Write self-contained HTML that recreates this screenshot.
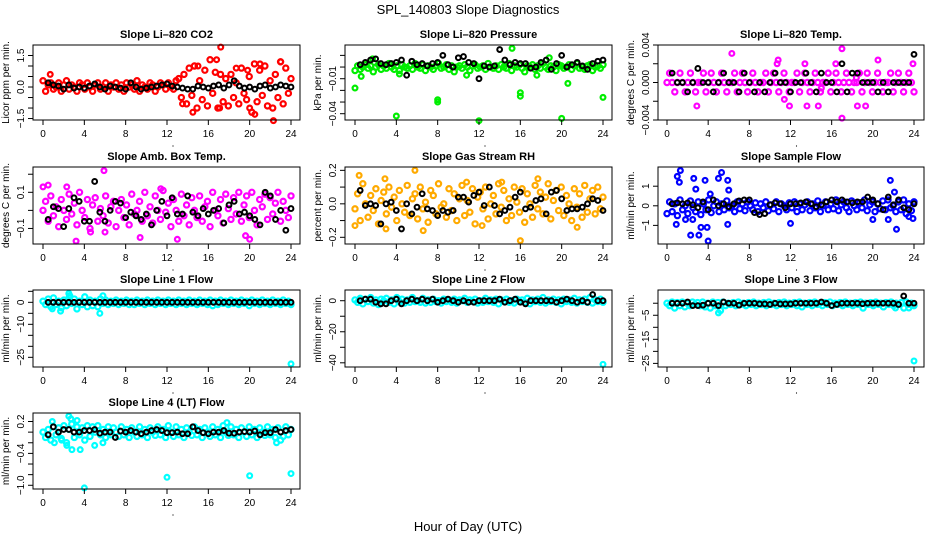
<!DOCTYPE html>
<html><head><meta charset="utf-8"><style>
body{margin:0;background:#fff;}
svg{display:block;font-family:"Liberation Sans",sans-serif;}
</style></head><body>
<svg id="chart" width="936" height="540" xmlns="http://www.w3.org/2000/svg">
<rect width="936" height="540" fill="#fff"/>
<text x="468" y="14" text-anchor="middle" font-size="13">SPL_140803  Slope Diagnostics</text>
<text x="468" y="531" text-anchor="middle" font-size="13">Hour of Day (UTC)</text>
</svg>
<script>
// ---- data (hour axis categories) ----
const xTicks=[0,4,8,12,16,20,24];
// Panel 1: CO2
const co2Vals=[0.3,-0.2,0.1,0.2,-0.1,0.0,0.2,-0.2,0.1,0.3,-0.1,0.1,0.0,-0.2,0.2,0.1,-0.1,0.2,0.0,-0.2,0.1,0.2,-0.1,0.0,0.2,-0.2,0.1,0.0,0.2,-0.1,0.1,-0.2,0.2,0.0,0.1,-0.1,0.3,-0.2,0.1,0.0,-0.1,0.2,0.1,-0.2,0.0,0.2,0.1,-0.1,0.2,0.0,-0.1,0.3,0.4,-0.5,0.6,-0.8,0.9,-0.4,1.0,-1.0,0.3,-0.6,0.8,-0.9,1.3,-0.3,0.7,-1.0,0.6,-0.7,0.4,-0.9,0.6,-0.5,0.2,-0.8,0.9,-0.3,-0.6,0.5,-1.2,1.1,-0.7,0.8,-0.4,1.0,-0.9,0.3,-1.0,0.6,-0.5,1.2,-0.8,0.9,-0.3,0.4];
const co2OutX=[0.7,17.2,20,20.5,22.3,21,23,18.7,16.8,14.5,15,17.1,13.5,19.8];
const co2OutY=[0.6,1.9,-1.0,-1.3,-1.6,1.1,1.2,0.9,1.3,-1.2,1.0,-1.0,-0.8,0.8];
const co2Black=[0.2,0.1,0.05,-0.1,0.1,-0.05,0.0,-0.05,0.05,0.15,0.0,-0.1,0.05,0.0,-0.05,-0.1,0.2,0.0,-0.1,-0.05,0.0,0.05,0.1,0.15,0.05,0.0,-0.05,-0.1,-0.1,0.05,0.0,-0.05,0.05,0.1,-0.05,0.1,0.3,0.05,-0.05,0.0,-0.1,0.05,0.1,-0.05,0.0,0.1,0.05,0.0];
// Panel 2: Pressure
const presVals=[-0.003,0.001,-0.002,0.0,0.002,-0.001,0.001,-0.004,0.0,0.002,-0.002,0.001,-0.001,0.003,0.0,-0.002,0.001,-0.003,0.002,0.0,-0.001,0.001,-0.002,0.003,0.0,-0.001,0.002,-0.003,0.001,0.0,-0.002,0.001,0.003,-0.001,0.0,0.002,-0.002,0.001,-0.004,0.0,0.001,-0.001,0.002,0.0,-0.003,0.001,0.002,-0.001,0.0,0.001,-0.002,0.003,0.0,-0.001,0.001,-0.002,0.002,0.0,-0.001,0.003,-0.003,0.001,0.0,0.002,-0.001,-0.004,0.001,0.0,0.002,-0.002,0.001,-0.001,0.003,0.0,-0.002,0.001,0.0,-0.003,0.002,0.001,-0.001,0.0,0.002,-0.002,0.001,0.003,-0.001,0.0,-0.002,0.001,0.002,-0.003,0.0,0.001,-0.001,0.002];
const presOutX=[0,0.6,4,8,8,12,16,16,20,24,15.2,20.6,10.8,17.6,1.7,18.8,4.3];
const presOutY=[-0.018,-0.008,-0.042,-0.028,-0.030,-0.046,-0.022,-0.025,-0.044,-0.026,0.016,-0.014,-0.007,-0.007,0.007,0.008,-0.006];
const presBlack=[0.002,0.004,0.006,0.007,0.003,0.002,0.003,0.004,0.006,-0.007,0.005,0.002,0.003,0.001,0.003,0.004,0.010,0.002,0.0,0.008,0.009,0.004,0.003,-0.010,0.001,0.0,0.001,0.015,0.006,0.002,0.004,0.003,0.003,-0.001,0.0,0.004,0.006,-0.002,0.003,0.010,0.0,0.002,0.004,0.001,-0.002,0.003,0.005,0.006];
// Panel 3: Li-820 Temp
const tempVals=[0,0.001,0,-0.001,0,0.001,0,-0.001,0,0.001,0,-0.001,0,0,0.001,-0.001,0,0.001,0,-0.001,0,0.001,0,-0.001,0,0,0.001,-0.001,0,0.001,0,-0.001,0,0.001,0,-0.001,0,0,0.001,-0.001,0,0.001,0,-0.001,0,0.001,0,-0.001,0,0,0.001,-0.001,0,0.001,0,-0.001,0,0.001,0,-0.001,0,0,0.001,-0.001,0,0.001,0,-0.001,0,0.001,0,-0.001,0,0,0.001,-0.001,0,0.001,0,-0.001,0,0.001,0,-0.001,0,0,0.001,-0.001,0,0.001,0,-0.001,0,0.001,0,-0.001];
const tempOutX=[6.3,10.8,17,17,2.9,11.9,20.5,23.9,13.6,14.7,18.5,19.3,15,18.4,10.7,16.4,13.4,11.4];
const tempOutY=[0.0031,0.0024,0.0036,-0.0038,-0.0025,-0.0025,0.0024,0.002,-0.0025,-0.0025,-0.0025,-0.0025,-0.0006,0.0005,0.002,0.002,0.002,-0.0018];
const tempBlack=[0.001,0,0,-0.001,0,0.0015,0,0,-0.001,0,0.001,0,0,-0.001,0.001,0,-0.001,0,-0.001,0,0.001,0,0,-0.001,0,0,0.001,0,-0.001,0.001,0,0,-0.001,0.002,-0.001,0.001,0.001,0,0,0,-0.001,0,-0.001,0,0,0,0,0.003];
// Panel 4: Amb Box Temp
const ambVals=[0.0,0.05,-0.06,0.08,-0.03,0.02,-0.09,0.06,0.0,-0.05,0.09,-0.02,0.04,-0.08,0.1,0.0,-0.04,0.06,-0.1,0.03,0.07,-0.06,0.01,-0.03,0.08,-0.07,0.02,0.05,-0.09,0.0,0.06,-0.04,0.03,-0.08,0.09,-0.02,0.0,0.05,-0.06,0.1,-0.03,0.02,-0.07,0.08,0.0,-0.05,0.11,-0.01,0.04,-0.09,0.06,0.0,-0.06,0.09,-0.03,0.03,-0.08,0.07,0.0,-0.04,0.08,-0.06,0.02,0.05,-0.09,0.1,0.0,-0.03,0.06,-0.07,0.09,0.01,-0.05,0.07,-0.02,0.1,-0.06,0.03,0.08,-0.04,0.1,0.0,-0.08,0.06,0.02,0.09,-0.05,0.07,-0.02,0.04,0.1,-0.06,0.05,0.0,-0.04,0.08];
const ambOutX=[5.9,3.2,0,0.5,9.4,13,20,6,4.6,11.4,19.6,2.3];
const ambOutY=[0.22,-0.17,0.13,0.14,-0.15,-0.16,-0.16,-0.12,-0.12,0.12,-0.14,0.13];
const ambBlack=[-0.05,0.02,0.01,-0.09,0.01,0.07,0.05,-0.06,-0.06,0.16,-0.01,-0.06,0.0,0.05,0.04,-0.04,-0.01,-0.03,-0.05,-0.02,-0.08,0.0,0.05,-0.03,0.07,-0.02,-0.02,0.08,-0.01,-0.03,0.01,-0.02,0.0,0.01,-0.07,0.03,0.05,-0.02,-0.01,-0.03,-0.05,-0.08,0.1,0.08,-0.05,0.0,-0.11,0.01];
// Panel 5: Gas Stream RH
const rhVals=[-0.03,0.06,-0.1,0.12,0.0,-0.08,0.05,-0.04,0.09,-0.12,0.02,0.07,-0.06,0.1,-0.02,0.04,-0.1,0.08,0.0,-0.05,0.11,-0.07,0.03,0.06,-0.09,0.1,-0.03,0.01,-0.11,0.08,0.05,-0.06,0.12,-0.02,0.0,-0.08,0.09,-0.04,0.06,-0.1,0.03,0.11,-0.07,0.02,-0.05,0.09,-0.12,0.04,0.07,-0.03,0.1,-0.09,0.0,0.05,-0.06,0.12,-0.02,0.08,-0.1,0.03,-0.07,0.1,0.01,-0.05,0.09,-0.11,0.06,0.0,-0.08,0.11,-0.03,0.07,-0.06,0.04,0.12,-0.09,0.02,0.08,-0.04,0.1,-0.07,0.05,0.0,-0.1,0.09,-0.02,0.06,-0.08,0.11,-0.05,0.03,0.08,-0.06,0.1,-0.03,0.04];
const rhOutX=[0,0.4,5.8,2.9,16,6.6,3,10.8,12.3,21.5,14.2,17.7];
const rhOutY=[-0.13,0.17,0.2,0.15,-0.22,-0.16,-0.15,0.13,-0.13,-0.14,0.13,0.15];
const rhBlack=[0.08,-0.01,0.0,-0.01,-0.12,0.0,0.01,-0.04,-0.15,-0.0,-0.06,-0.02,0.06,-0.03,-0.04,-0.07,-0.04,-0.05,-0.04,0.04,0.04,0.01,0.05,0.07,-0.01,0.10,-0.01,-0.06,-0.04,-0.02,0.04,0.07,-0.03,-0.02,0.02,0.03,-0.06,0.07,0.08,0.03,-0.04,-0.03,-0.03,-0.02,0.00,0.03,0.02,-0.04];
// Panel 6: Sample Flow
const flowVals=[-0.4,0.2,-0.3,0.1,-0.5,0.3,-0.2,0.0,-0.4,0.25,-0.1,-0.3,0.2,-0.45,0.1,-0.2,0.3,-0.35,0.0,0.2,-0.3,0.1,-0.2,0.25,-0.1,0.0,-0.3,0.2,-0.15,0.1,-0.25,0.2,0.0,-0.2,0.15,-0.3,0.1,-0.1,0.2,-0.25,0.05,-0.15,0.2,-0.3,0.1,0.0,-0.2,0.15,-0.1,0.2,-0.3,0.1,-0.2,0.05,0.2,-0.25,0.1,-0.1,0.25,-0.3,0.0,0.2,-0.2,0.1,-0.15,0.3,-0.25,0.05,0.2,-0.1,-0.3,0.25,0.0,-0.2,0.15,-0.1,0.3,-0.25,0.05,0.2,-0.3,0.1,-0.15,0.25,-0.2,0.3,-0.1,0.0,-0.3,0.2,-0.2,0.3,-0.4,0.1,-0.25,0.2];
const flowOutX=[1.3,1.0,1.2,2.6,3.7,5.0,5.3,5.9,6.0,21.7,22.1,2.3,3.1,4.0,3.3,3.9,5.9,0.9,12,20,21.5,22.3,23.5,23.9,1.8,2.5,4.2,2.8];
const flowOutY=[1.8,1.5,1.2,1.4,1.3,1.4,1.7,1.3,0.8,1.3,0.7,-1.5,-1.5,-1.8,-1.1,-1.1,-0.95,-0.95,-0.9,-0.7,-0.7,-1.2,-0.55,-0.65,-0.7,-0.7,0.6,0.85];
const flowBlack=[0.1,0.15,0.1,0.15,0.05,-0.1,0.2,-0.2,0.3,0.0,0.1,-0.05,0.1,0.25,0.3,0.3,-0.35,-0.45,-0.4,0.05,0.15,0.1,-0.1,0.1,0.1,0.15,0.2,0.1,-0.05,0.05,0.2,0.3,0.2,0.3,0.2,0.15,0.2,0.2,0.45,0.3,0.1,-0.2,0.45,0.05,0.3,-0.1,-0.2,0.1];
// Panel 7: Line 1 Flow
const l1Vals=[0.5,-1,1.5,-2,2,-1,0.5,-2.5,1,-1.5,2,-0.5,1.5,-3,0.5,-1,2.5,-2,1,-1.5,0.5,-2,1.5,-0.5,1,-1,0.5,-0.5,1,-1,0.5,-0.5,1,-1,0.5,-1,1,-0.5,0.5,-1,1,-0.5,0.5,-1,1,-0.5,0.5,-1,1,-0.5,0.5,-1,1,-0.5,0.5,-1,1,-0.5,0.5,-1,1,-0.5,0.5,-1,1,-1.5,0.5,-1,1,-0.5,0.5,-1,1,-0.5,0.5,-1,1,-0.5,0.5,-1.5,1,-0.5,0.5,-1,1,-0.5,0.5,-1,1,-0.5,0.5,-1,1,-0.5,0.5,-1];
const l1OutX=[2.5,2.6,5.5,1.7,0.9,5.8,24];
const l1OutY=[4,3,-5,-4,-3,3,-28];
const l1Black=[0,0,0,0,0,0,0,0,0,0,0,0,0,0,0,0,0,0,0,0,0,0,0,0,0,0,0,0,0,0,0,0,0,0,0,0,0,0,0,0,0,0,0,0,0,0,0,0];
// Panel 8: Line 2 Flow
const l2Vals=[0.5,-1,1.5,-2,1,-0.5,2,-1.5,0.5,-2.5,1,0,1.5,-1,0.5,-2,2,-0.5,1,-1.5,0.5,-1,2,-0.5,0,-1,1.5,-1.5,0.5,-1,1,-0.5,0,-1.5,1,-0.5,0.5,-1,1,-1.5,0.5,0,1.5,-1,0.5,-0.5,1,-1.5,0,-1,1.5,-0.5,0.5,-1,1,-2,0.5,-0.5,1,-1,0,-1.5,1,-0.5,0.5,-1,1.5,-2,0.5,-0.5,1,-1,2,-1.5,0.5,-0.5,1,-1,0.5,-2,1,-0.5,0.5,-1,1.5,-1.5,0.5,-0.5,1,-1,2,-1.5,0.5,-0.5,1,-1];
const l2OutX=[24];
const l2OutY=[-41];
const l2Black=[0,1,1,-1,-2,-2,0,1,-2,0,1,0,1,0,1,-1,0,1,0,-1,0,-1,-1,0,0,0,0,1,-1,0,1,-1,-2,0,0,0,0,0,-1,0,1,0,-1,0,-1,4,0,0];
// Panel 9: Line 3 Flow
const l3Vals=[0,-1,0.5,-2,0.3,-1,0.5,-1.5,0,-1,0.5,-0.5,0.3,-1,0.5,-1.5,0,-2,0.5,-1,0.3,-3,0.5,-1,0,-0.5,0.3,-1,0.5,-0.5,0,-1,0.3,-0.5,0.5,-1,0,-0.5,0.3,-1,0.5,-0.5,0,-1,0.3,-0.5,0.5,-1,0,-0.5,0.3,-1,0.5,-1.5,0,-0.5,0.3,-1,0.5,-0.5,0,-1,0.3,-0.5,0.5,-1,0,-0.5,0.3,-1,0.5,-0.5,0,-1,0.3,-0.5,0.5,-2,0,-0.5,0.3,-1,0.5,-0.5,0,-1.5,0.3,-0.5,0.5,-1,0,-0.5,0.3,-2,0.5,-0.5,0,-1];
const l3OutX=[24,5,22.2,23.5];
const l3OutY=[-24,-4,-2,-2];
const l3Black=[0,0,0,0.5,-1,-1,-0.8,0,0,-1,0.5,0,0,-0.8,0,0,0,-0.3,-0.3,-0.5,0,-0.3,-0.3,-0.3,0,0,0,0,0,0.5,0,-1,-0.5,0,0,0,0,-0.2,0,0,0,0,0,0,-0.5,3,0,0];
// Panel 10: Line 4 (LT) Flow
const l4Vals=[0.0,-0.1,0.05,-0.15,0.1,-0.05,0.08,-0.12,0.12,-0.2,0.05,0.15,-0.1,0.1,-0.05,0.08,-0.15,0.12,-0.08,0.1,0.0,0.12,-0.05,0.05,-0.1,0.1,-0.05,0.08,0.0,-0.08,0.1,-0.05,0.05,-0.1,0.08,0.0,-0.08,0.1,-0.05,0.05,-0.1,0.08,0.0,-0.06,0.1,-0.05,0.05,-0.1,0.12,0.0,-0.08,0.1,-0.05,0.05,-0.1,0.08,0.0,-0.06,0.1,-0.05,0.05,-0.1,0.08,0.0,-0.08,0.1,-0.05,0.05,-0.1,0.12,0.0,-0.06,0.1,-0.05,0.05,-0.1,0.08,0.0,-0.08,0.1,-0.05,0.05,-0.1,0.08,0.0,-0.06,0.1,-0.05,0.05,-0.1,0.08,-0.15,-0.08,0.1,-0.05,0.05];
const l4OutX=[2.5,2.7,3.3,4,12,20,24,2.8,3.6,2.3,5,5.8,17.8,22.6,1.8,1.1,0.9];
const l4OutY=[0.3,0.25,0.22,-1.05,-0.85,-0.82,-0.78,-0.33,-0.33,-0.25,-0.25,-0.2,0.18,-0.2,-0.15,-0.2,0.2];
const l4Black=[-0.05,0.1,0.0,0.05,0.05,0.0,0.0,0.03,0.03,0.05,-0.02,0.0,0.0,-0.1,0.02,0.0,0.03,0.0,-0.03,0.0,0.03,0.05,0.03,-0.01,-0.01,0.0,-0.03,-0.03,0.1,0.03,-0.01,-0.03,0.0,0.0,0.03,-0.02,-0.02,0.0,0.01,0.0,0.02,-0.05,-0.01,-0.01,0.05,0.0,0.03,0.05];

// ---- layout ----
const cols=[{l:33,r:300,x0:43,x24:291},{l:345,r:612,x0:355,x24:603},{l:658,r:924,x0:667,x24:914}];
const rows=[{t:45,b:120},{t:167,b:244},{t:290,b:367},{t:413,b:489}];
const panels=[
 {name:'co2',title:'Slope Li\u2013820 CO2',ylab:'Licor ppm per min.',c:0,r:0,ymin:-1.57,ymax:2.0,ticks:[-1.5,-1,-0.5,0,0.5,1,1.5],labels:{'-1.5':'\u22121.5','0':'0.0','1.5':'1.5'},col:'#ff0000',vals:co2Vals,ox:co2OutX,oy:co2OutY,blk:co2Black},
 {name:'pressure',title:'Slope Li\u2013820 Pressure',ylab:'kPa per min.',c:1,r:0,ymin:-0.0454,ymax:0.0189,ticks:[-0.04,-0.03,-0.02,-0.01,0,0.01],labels:{'-0.04':'\u22120.04','-0.01':'\u22120.01'},col:'#00ee00',vals:presVals,ox:presOutX,oy:presOutY,blk:presBlack},
 {name:'li820-temp',title:'Slope Li\u2013820 Temp.',ylab:'degrees C per min.',c:2,r:0,ymin:-0.004,ymax:0.004,ticks:[-0.004,-0.002,0,0.002,0.004],labels:{'-0.004':'\u22120.004','0':'0.000','0.004':'0.004'},col:'#ff00ff',vals:tempVals,ox:tempOutX,oy:tempOutY,blk:tempBlack},
 {name:'amb-box-temp',title:'Slope Amb. Box Temp.',ylab:'degrees C per min.',c:0,r:1,ymin:-0.186,ymax:0.24,ticks:[-0.1,0,0.1,0.2],labels:{'-0.1':'\u22120.1','0.1':'0.1'},col:'#ff00ff',vals:ambVals,ox:ambOutX,oy:ambOutY,blk:ambBlack},
 {name:'gas-stream-rh',title:'Slope Gas Stream RH',ylab:'percent per min.',c:1,r:1,ymin:-0.24,ymax:0.22,ticks:[-0.2,-0.1,0,0.1,0.2],labels:{'-0.2':'\u22120.2','0':'0.0','0.2':'0.2'},col:'#ffaa00',vals:rhVals,ox:rhOutX,oy:rhOutY,blk:rhBlack},
 {name:'sample-flow',title:'Slope Sample Flow',ylab:'ml/min per min.',c:2,r:1,ymin:-1.95,ymax:1.98,ticks:[-1,0,1],labels:{'-1':'\u22121','0':'0','1':'1'},col:'#0000ff',vals:flowVals,ox:flowOutX,oy:flowOutY,blk:flowBlack},
 {name:'line1-flow',title:'Slope Line 1 Flow',ylab:'ml/min per min.',c:0,r:2,ymin:-29.4,ymax:5.6,ticks:[-25,-20,-15,-10,-5,0,5],labels:{'-25':'\u221225','-10':'\u221210','0':'0'},col:'#00ffff',vals:l1Vals,ox:l1OutX,oy:l1OutY,blk:l1Black},
 {name:'line2-flow',title:'Slope Line 2 Flow',ylab:'ml/min per min.',c:1,r:2,ymin:-42.7,ymax:6.9,ticks:[-40,-30,-20,-10,0],labels:{'-40':'\u221240','-20':'\u221220','0':'0'},col:'#00ffff',vals:l2Vals,ox:l2OutX,oy:l2OutY,blk:l2Black},
 {name:'line3-flow',title:'Slope Line 3 Flow',ylab:'ml/min per min.',c:2,r:2,ymin:-26.5,ymax:5.5,ticks:[-25,-20,-15,-10,-5,0],labels:{'-25':'\u221225','-15':'\u221215','-5':'\u22125'},col:'#00ffff',vals:l3Vals,ox:l3OutX,oy:l3OutY,blk:l3Black},
 {name:'line4-flow',title:'Slope Line 4 (LT) Flow',ylab:'ml/min per min.',c:0,r:3,ymin:-1.07,ymax:0.36,ticks:[-1,-0.8,-0.6,-0.4,-0.2,0,0.2],labels:{'-1':'\u22121.0','-0.4':'\u22120.4','0.2':'0.2'},col:'#00ffff',vals:l4Vals,ox:l4OutX,oy:l4OutY,blk:l4Black}
];
const NS='http://www.w3.org/2000/svg';
const svg=document.getElementById('chart');
function mk(tag,attrs,parent){const e=document.createElementNS(NS,tag);for(const k in attrs)e.setAttribute(k,attrs[k]);(parent||svg).appendChild(e);return e;}
panels.forEach(p=>{
  const C=cols[p.c],R=rows[p.r];
  const X=h=>C.x0+(h/24)*(C.x24-C.x0);
  const Y=v=>R.b-(v-p.ymin)/(p.ymax-p.ymin)*(R.b-R.t);
  const g=mk('g',{});
  
  
  const t=mk('text',{x:(C.l+C.r)/2,y:R.t-7,'text-anchor':'middle','font-size':'11','font-weight':'bold'},g);
  t.textContent=p.title;
  
  
  const yl=mk('text',{transform:`translate(${C.l-24},${(R.t+R.b)/2}) rotate(-90)`,'text-anchor':'middle','font-size':'10'},g);
  yl.textContent=p.ylab;
  
  
  // points
  const pts=mk('g',{fill:'none',stroke:p.col,'stroke-width':'2.2'},g);
  
  
  const n=p.vals.length;
  p.vals.forEach((v,i)=>{const c=mk('circle',{cx:X(i*24/(n-1)),cy:Y(v),r:2.6},pts);
    
    });
  p.ox.forEach((h,i)=>{const c=mk('circle',{cx:X(h),cy:Y(p.oy[i]),r:2.4},pts);
    
    });
  const bk=mk('g',{fill:'none',stroke:'#000','stroke-width':'2'},g);
  
  
  p.blk.forEach((v,i)=>{const c=mk('circle',{cx:X(0.5+i*0.5),cy:Y(v),r:2.4},bk);
    
    });
  // box
  const box=mk('rect',{x:C.l,y:R.t,width:C.r-C.l,height:R.b-R.t,fill:'none',stroke:'#000','stroke-width':'1'},g);
  
  
  // x axis
  const xa=mk('g',{},g);
  
  
  xTicks.forEach(h=>{mk('line',{x1:X(h),x2:X(h),y1:R.b,y2:R.b+5,stroke:'#000'},xa);
    const tl=mk('text',{x:X(h),y:R.b+17,'text-anchor':'middle','font-size':'10'},xa);tl.textContent=h;
    
    });
  mk('circle',{cx:X(12)+6,cy:R.b+26,r:0.6,fill:'#000'},xa);
  // y axis
  const ya=mk('g',{},g);
  
  
  p.ticks.forEach(v=>{mk('line',{x1:C.l-5,x2:C.l,y1:Y(v),y2:Y(v),stroke:'#000'},ya);
    const key=String(v);
    if(p.labels[key]!==undefined){const tl=mk('text',{transform:`translate(${C.l-9},${Y(v)}) rotate(-90)`,'text-anchor':'middle','font-size':'10'},ya);tl.textContent=p.labels[key];
      
      }
  });
});
</script>
</body></html>
